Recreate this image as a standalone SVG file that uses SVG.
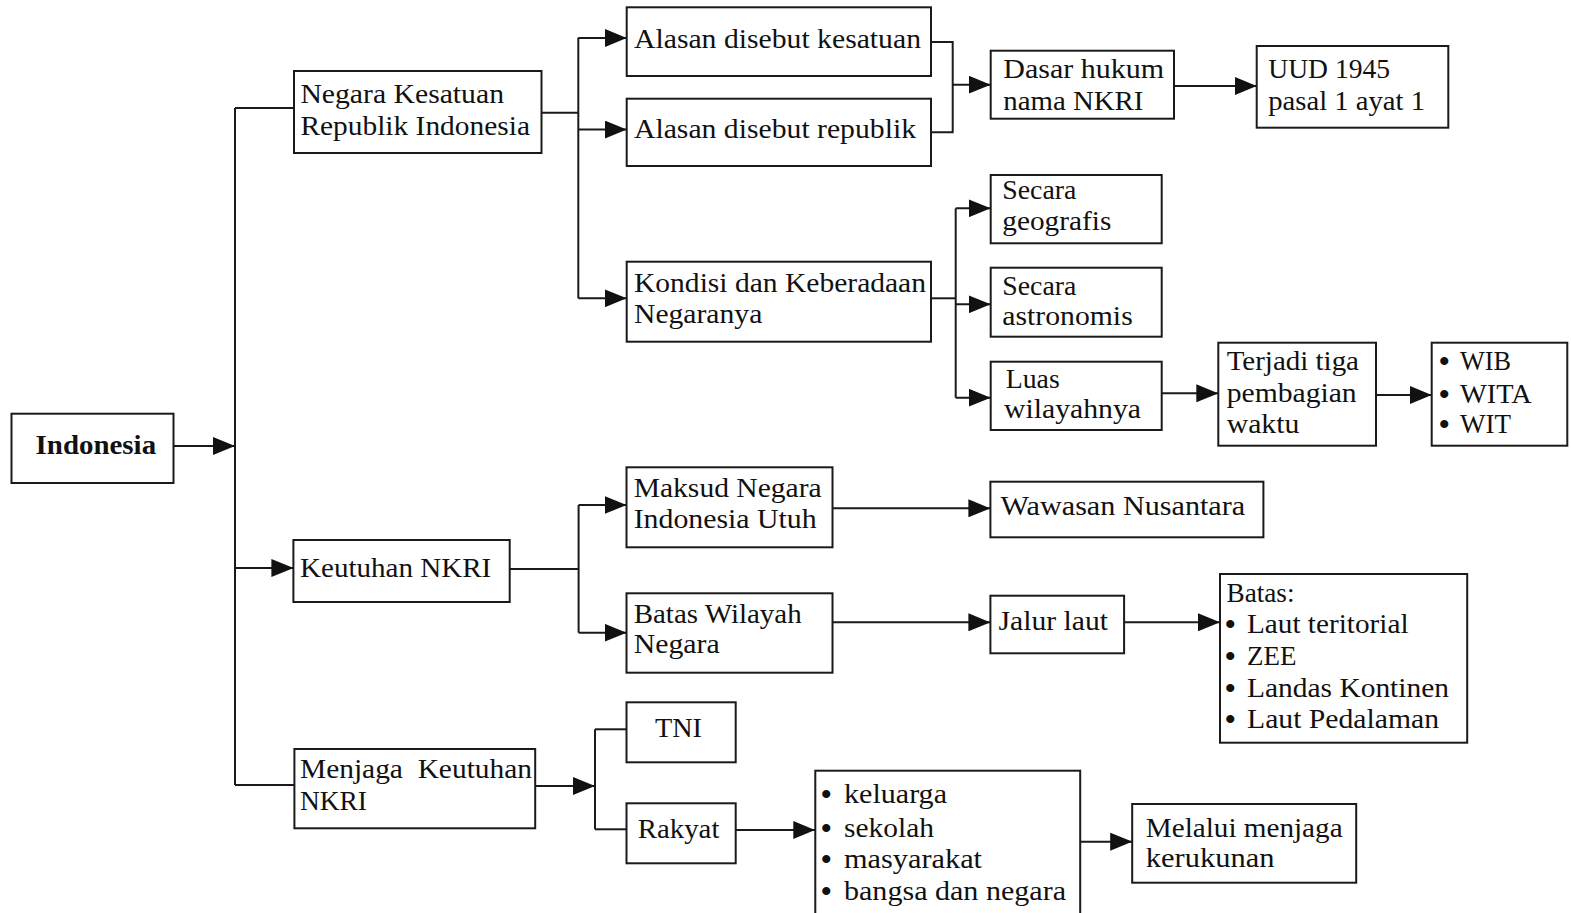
<svg xmlns="http://www.w3.org/2000/svg" width="1571" height="913" viewBox="0 0 1571 913">
<style>
.b{fill:#fff;stroke:#1a1a1a;stroke-width:2}
.t{font-family:"Liberation Serif","Times New Roman",serif;font-size:27px;fill:#111}
.tb{font-family:"Liberation Serif","Times New Roman",serif;font-size:27px;font-weight:bold;fill:#111}
.u{font-family:"Liberation Serif","Times New Roman",serif;font-size:30px;font-weight:bold;fill:#111}
.c path{fill:none;stroke:#1a1a1a;stroke-width:2}
</style>
<defs>
<marker id="a" markerUnits="userSpaceOnUse" markerWidth="22" markerHeight="18" refX="22" refY="9" orient="auto">
<path d="M0,0 L22,9 L0,18 z" fill="#111"/>
</marker>
</defs>
<rect width="1571" height="913" fill="#fff"/>
<g class="c" id="connectors">
<path d="M173,446 H235" marker-end="url(#a)"/>
<path d="M235,108 V785"/>
<path d="M235,108 H294"/>
<path d="M235,568 H293.4" marker-end="url(#a)"/>
<path d="M235,785 H294.4"/>
<path d="M541,112.7 H578.3"/>
<path d="M578.3,37.7 V298.3"/>
<path d="M578.3,38 H626.7" marker-end="url(#a)"/>
<path d="M578.3,129.5 H626.7" marker-end="url(#a)"/>
<path d="M578.3,298.3 H626.7" marker-end="url(#a)"/>
<path d="M931,42 H952.7 V132.3 H931"/>
<path d="M952.7,84.7 H990.7" marker-end="url(#a)"/>
<path d="M931,298.3 H955.7"/>
<path d="M955.7,208.3 V397.7"/>
<path d="M955.7,208.3 H990.7" marker-end="url(#a)"/>
<path d="M955.7,304.3 H990.7" marker-end="url(#a)"/>
<path d="M955.7,397.7 H990.7" marker-end="url(#a)"/>
<path d="M1174,86 H1256.7" marker-end="url(#a)"/>
<path d="M1161.7,393.3 H1218.3" marker-end="url(#a)"/>
<path d="M1376,395 H1431.7" marker-end="url(#a)"/>
<path d="M509.7,569 H578.6"/>
<path d="M578.6,505 V632.7"/>
<path d="M578.6,505 H626.5" marker-end="url(#a)"/>
<path d="M578.6,632.7 H626.5" marker-end="url(#a)"/>
<path d="M832.5,508.3 H990.4" marker-end="url(#a)"/>
<path d="M832.5,622.3 H990.4" marker-end="url(#a)"/>
<path d="M1124,622.3 H1220" marker-end="url(#a)"/>
<path d="M535.2,786 H595" marker-end="url(#a)"/>
<path d="M595,729.3 V829.3"/>
<path d="M595,729.3 H626.5"/>
<path d="M595,829.3 H626.5"/>
<path d="M735.7,830 H815.3" marker-end="url(#a)"/>
<path d="M1080.2,841.7 H1132.2" marker-end="url(#a)"/>
</g>
<g id="indonesia"><rect class="b" x="11.5" y="413.7" width="162" height="69.3"/><text class="tb" x="35.6" y="454" textLength="120.5" lengthAdjust="spacingAndGlyphs">Indonesia</text></g>
<g id="nkri"><rect class="b" x="294" y="71" width="247.5" height="82"/><text class="t" x="300.4" y="103" textLength="203.6" lengthAdjust="spacingAndGlyphs">Negara Kesatuan</text><text class="t" x="300.4" y="135" textLength="229.6" lengthAdjust="spacingAndGlyphs">Republik Indonesia</text></g>
<g id="kesatuan"><rect class="b" x="626.7" y="7.3" width="304.3" height="68.7"/><text class="t" x="634" y="48.3" textLength="287" lengthAdjust="spacingAndGlyphs">Alasan disebut kesatuan</text></g>
<g id="republik"><rect class="b" x="626.7" y="98.7" width="304.3" height="67.3"/><text class="t" x="634" y="138.3" textLength="282" lengthAdjust="spacingAndGlyphs">Alasan disebut republik</text></g>
<g id="kondisi"><rect class="b" x="626.7" y="261.7" width="304.3" height="80"/><text class="t" x="634" y="291.7" textLength="292" lengthAdjust="spacingAndGlyphs">Kondisi dan Keberadaan</text><text class="t" x="634" y="322.7" textLength="128.3" lengthAdjust="spacingAndGlyphs">Negaranya</text></g>
<g id="dasar"><rect class="b" x="990.7" y="50.7" width="183.3" height="68"/><text class="t" x="1003.3" y="78.3" textLength="160.7" lengthAdjust="spacingAndGlyphs">Dasar hukum</text><text class="t" x="1003.3" y="110" textLength="140" lengthAdjust="spacingAndGlyphs">nama NKRI</text></g>
<g id="uud"><rect class="b" x="1256.7" y="46" width="191.6" height="81.7"/><text class="t" x="1268.3" y="77.7" textLength="121.7" lengthAdjust="spacingAndGlyphs">UUD 1945</text><text class="t" x="1268.3" y="110" textLength="156.7" lengthAdjust="spacingAndGlyphs">pasal 1 ayat 1</text></g>
<g id="geografis"><rect class="b" x="990.7" y="175" width="171" height="68.3"/><text class="t" x="1002.3" y="199.3" textLength="74" lengthAdjust="spacingAndGlyphs">Secara</text><text class="t" x="1002.3" y="230" textLength="109" lengthAdjust="spacingAndGlyphs">geografis</text></g>
<g id="astronomis"><rect class="b" x="990.7" y="267.7" width="171" height="69"/><text class="t" x="1002.3" y="295" textLength="74" lengthAdjust="spacingAndGlyphs">Secara</text><text class="t" x="1002.3" y="325" textLength="130.4" lengthAdjust="spacingAndGlyphs">astronomis</text></g>
<g id="luas"><rect class="b" x="990.7" y="361.7" width="171" height="68.3"/><text class="t" x="1005.7" y="387.7" textLength="54" lengthAdjust="spacingAndGlyphs">Luas</text><text class="t" x="1004" y="418.3" textLength="137" lengthAdjust="spacingAndGlyphs">wilayahnya</text></g>
<g id="terjadi"><rect class="b" x="1218.3" y="342.7" width="157.7" height="103"/><text class="t" x="1226.7" y="370" textLength="132.3" lengthAdjust="spacingAndGlyphs">Terjadi tiga</text><text class="t" x="1226.7" y="401.7" textLength="130" lengthAdjust="spacingAndGlyphs">pembagian</text><text class="t" x="1226.7" y="432.7" textLength="72.6" lengthAdjust="spacingAndGlyphs">waktu</text></g>
<g id="wib"><rect class="b" x="1431.7" y="342.7" width="135.6" height="103"/>
<text class="u" x="1439" y="371">•</text><text class="t" x="1460" y="370" textLength="51" lengthAdjust="spacingAndGlyphs">WIB</text>
<text class="u" x="1439" y="403.7">•</text><text class="t" x="1460" y="402.7" textLength="71.7" lengthAdjust="spacingAndGlyphs">WITA</text>
<text class="u" x="1439" y="434.3">•</text><text class="t" x="1460" y="433.3" textLength="51" lengthAdjust="spacingAndGlyphs">WIT</text></g>
<g id="keutuhan"><rect class="b" x="293.4" y="540" width="216.3" height="62"/><text class="t" x="300" y="576.7" textLength="191.3" lengthAdjust="spacingAndGlyphs">Keutuhan NKRI</text></g>
<g id="maksud"><rect class="b" x="626.5" y="467.3" width="206" height="80"/><text class="t" x="633.7" y="496.7" textLength="188" lengthAdjust="spacingAndGlyphs">Maksud Negara</text><text class="t" x="633.7" y="528.3" textLength="183" lengthAdjust="spacingAndGlyphs">Indonesia Utuh</text></g>
<g id="bataswilayah"><rect class="b" x="626.5" y="593.3" width="206" height="79.4"/><text class="t" x="633.7" y="622.7" textLength="168" lengthAdjust="spacingAndGlyphs">Batas Wilayah</text><text class="t" x="633.7" y="653.3" textLength="86" lengthAdjust="spacingAndGlyphs">Negara</text></g>
<g id="wawasan"><rect class="b" x="990.4" y="481.7" width="273" height="55.6"/><text class="t" x="1000.5" y="515" textLength="244.7" lengthAdjust="spacingAndGlyphs">Wawasan Nusantara</text></g>
<g id="jalur"><rect class="b" x="990.4" y="595.7" width="133.7" height="57.6"/><text class="t" x="998.5" y="630" textLength="109.5" lengthAdjust="spacingAndGlyphs">Jalur laut</text></g>
<g id="bataslist"><rect class="b" x="1220" y="574" width="247.2" height="168.7"/>
<text class="t" x="1226.5" y="601.7" textLength="68" lengthAdjust="spacingAndGlyphs">Batas:</text>
<text class="u" x="1225" y="634.3">•</text><text class="t" x="1247" y="633.3" textLength="161.5" lengthAdjust="spacingAndGlyphs">Laut teritorial</text>
<text class="u" x="1225" y="666">•</text><text class="t" x="1247" y="665" textLength="49.5" lengthAdjust="spacingAndGlyphs">ZEE</text>
<text class="u" x="1225" y="698.3">•</text><text class="t" x="1247" y="697.3" textLength="202" lengthAdjust="spacingAndGlyphs">Landas Kontinen</text>
<text class="u" x="1225" y="729.3">•</text><text class="t" x="1247" y="728.3" textLength="192" lengthAdjust="spacingAndGlyphs">Laut Pedalaman</text></g>
<g id="menjaga"><rect class="b" x="294.4" y="749" width="240.8" height="79.3"/><text class="t" x="300" y="778.3" textLength="232" lengthAdjust="spacingAndGlyphs" style="white-space:pre">Menjaga  Keutuhan</text><text class="t" x="300" y="810" textLength="67" lengthAdjust="spacingAndGlyphs">NKRI</text></g>
<g id="tni"><rect class="b" x="626.5" y="702.3" width="109.2" height="60"/><text class="t" x="655" y="736.7" textLength="47" lengthAdjust="spacingAndGlyphs">TNI</text></g>
<g id="rakyat"><rect class="b" x="626.5" y="803.3" width="109.2" height="60"/><text class="t" x="637.8" y="838.3" textLength="81.6" lengthAdjust="spacingAndGlyphs">Rakyat</text></g>
<g id="rakyatlist"><rect class="b" x="815.3" y="770.7" width="264.9" height="160"/>
<text class="u" x="821" y="804.3">•</text><text class="t" x="844" y="803.3" textLength="103" lengthAdjust="spacingAndGlyphs">keluarga</text>
<text class="u" x="821" y="837.7">•</text><text class="t" x="844" y="836.7" textLength="90" lengthAdjust="spacingAndGlyphs">sekolah</text>
<text class="u" x="821" y="869.3">•</text><text class="t" x="844" y="868.3" textLength="138" lengthAdjust="spacingAndGlyphs">masyarakat</text>
<text class="u" x="821" y="901">•</text><text class="t" x="844" y="900" textLength="222" lengthAdjust="spacingAndGlyphs">bangsa dan negara</text></g>
<g id="melalui"><rect class="b" x="1132.2" y="804" width="224" height="78.7"/><text class="t" x="1145.8" y="836.7" textLength="196.8" lengthAdjust="spacingAndGlyphs">Melalui menjaga</text><text class="t" x="1145.8" y="866.7" textLength="128.6" lengthAdjust="spacingAndGlyphs">kerukunan</text></g>
</svg>
